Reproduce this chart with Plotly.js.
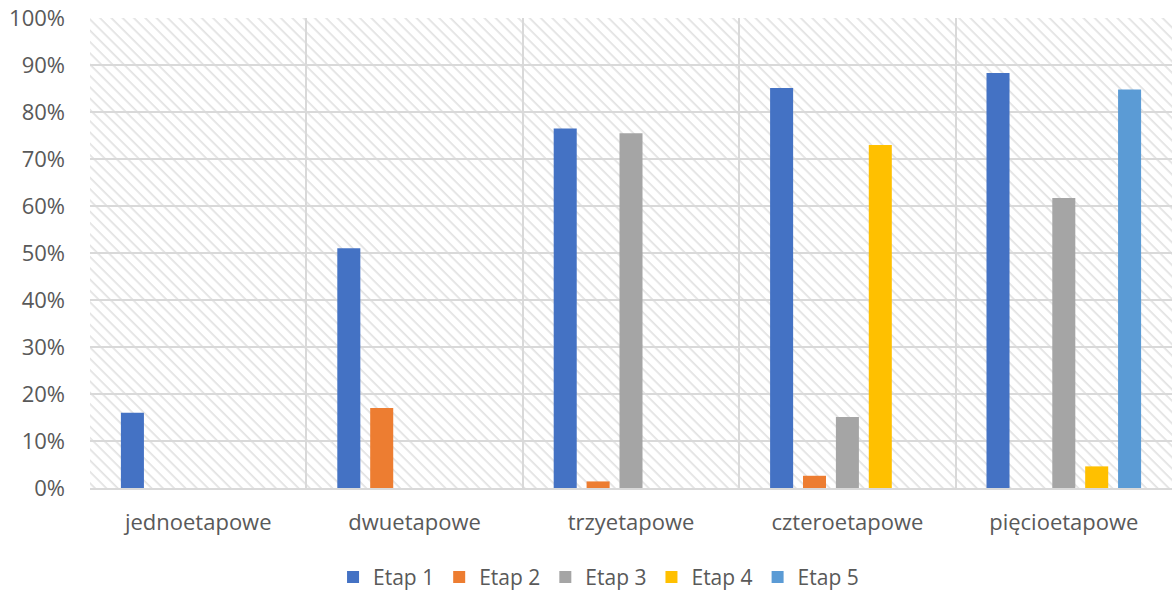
<!DOCTYPE html>
<html>
<head>
<meta charset="utf-8">
<script src="https://cdn.plot.ly/plotly-3.0.1.min.js"></script>
<style>html,body{margin:0;padding:0;background:#fff;}#chart{width:1173px;height:590px;}</style>
</head>
<body>
<div id="chart"></div>
<script>
const categories = ["jednoetapowe", "dwuetapowe", "trzyetapowe", "czteroetapowe", "pięcioetapowe"];
const seriesNames = ["Etap 1", "Etap 2", "Etap 3", "Etap 4", "Etap 5"];
const etap1 = [0.16, 0.51, 0.765, 0.851, 0.883];
const etap2 = [0, 0.17, 0.014, 0.026, 0];
const etap3 = [0, 0, 0.755, 0.151, 0.617];
const etap4 = [0, 0, 0, 0.73, 0.046];
const etap5 = [0, 0, 0, 0, 0.848];
const colors = ["#4472C4", "#ED7D31", "#A5A5A5", "#FFC000", "#5B9BD5"];
const yTickVals = [0, 0.1, 0.2, 0.3, 0.4, 0.5, 0.6, 0.7, 0.8, 0.9, 1];

const allSeries = [etap1, etap2, etap3, etap4, etap5];
const traces = allSeries.map((vals, i) => ({
  type: "bar",
  name: seriesNames[i],
  x: categories,
  y: vals,
  marker: { color: colors[i], line: { width: 0 } },
  hoverinfo: "x+y+name"
}));

const hatchSvg = '<svg xmlns="http://www.w3.org/2000/svg" width="1083" height="470">' +
  '<defs><pattern id="p" width="8" height="8" patternUnits="userSpaceOnUse" patternTransform="rotate(45)">' +
  '<rect width="8" height="8" fill="#ffffff"/>' +
  '<line x1="0" y1="0" x2="8" y2="0" stroke="#e2e2e2" stroke-width="3.4"/></pattern></defs>' +
  '<rect width="1083" height="470" fill="url(#p)"/></svg>';
const hatchUri = "data:image/svg+xml;charset=utf-8," + encodeURIComponent(hatchSvg);

const fam = "Open Sans, Liberation Sans, sans-serif";
const txt = "#595959";

const layout = {
  width: 1173,
  height: 590,
  margin: { l: 90, r: 1, t: 18, b: 102, autoexpand: false },
  paper_bgcolor: "#ffffff",
  plot_bgcolor: "#ffffff",
  font: { family: fam, size: 22, color: txt },
  barmode: "group",
  bargap: 0.24,
  bargroupgap: 0.3,
  showlegend: true,
  legend: {
    orientation: "h",
    x: 0.47,
    xanchor: "center",
    y: -0.19,
    yanchor: "middle",
    font: { family: fam, size: 21, color: txt },
    traceorder: "normal"
  },
  xaxis: {
    type: "category",
    tickson: "boundaries",
    showgrid: true,
    gridcolor: "#d9d9d9",
    gridwidth: 2,
    ticks: "",
    showline: true,
    linecolor: "#d9d9d9",
    linewidth: 2,
    tickfont: { family: fam, size: 22, color: txt },
    ticklabelstandoff: 14,
    fixedrange: true
  },
  yaxis: {
    range: [0, 1],
    tickvals: yTickVals,
    tickformat: ".0%",
    showgrid: true,
    gridcolor: "#d9d9d9",
    gridwidth: 2,
    zeroline: false,
    showline: false,
    ticks: "",
    ticklabelstandoff: 24,
    tickfont: { family: fam, size: 22, color: txt },
    fixedrange: true
  },
  images: [{
    source: hatchUri,
    xref: "paper", yref: "paper",
    x: 0, y: 1, sizex: 1, sizey: 1,
    xanchor: "left", yanchor: "top",
    sizing: "stretch",
    layer: "below"
  }]
};

Plotly.newPlot("chart", traces, layout, { displayModeBar: false });
</script>
</body>
</html>
